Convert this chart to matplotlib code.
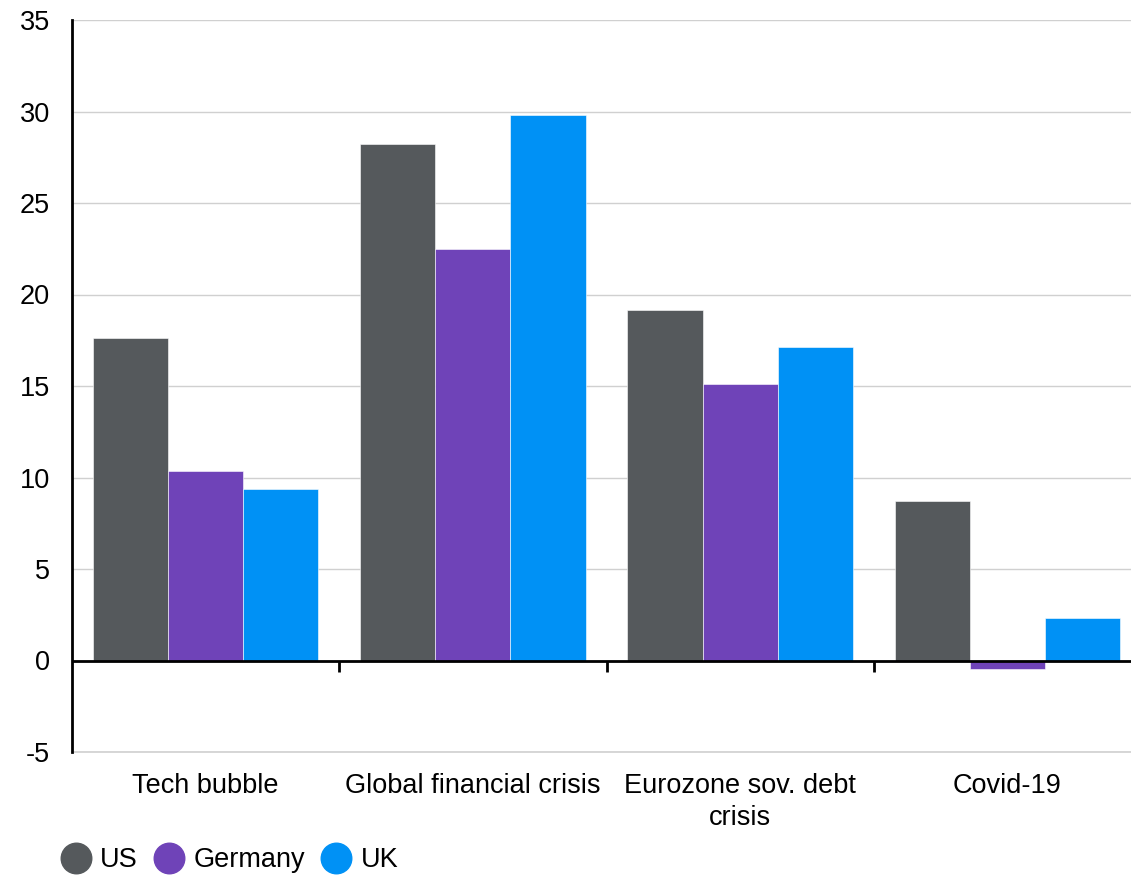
import numpy as np
import matplotlib.pyplot as plt
from matplotlib.lines import Line2D

plt.rcParams["font.family"] = ["Liberation Sans", "DejaVu Sans"]
plt.rcParams["axes.unicode_minus"] = False

categories = ["Tech bubble", "Global financial crisis", "Eurozone sov. debt\ncrisis", "Covid-19"]
series = ["US", "Germany", "UK"]
us = [17.6, 28.2, 19.15, 8.7]
germany = [10.35, 22.5, 15.1, -0.45]
uk = [9.35, 29.8, 17.15, 2.3]
colors = ["#55595c", "#6f43b8", "#0091f5"]

fig = plt.figure(figsize=(11.31, 8.77), dpi=100)
ax = fig.add_axes([72 / 1131, 125 / 877, 1 - 72 / 1131, 732 / 877])

x = np.arange(len(categories))
w = 0.281
for i, (vals, c) in enumerate(zip([us, germany, uk], colors)):
    ax.bar(x + (i - 1) * w, vals, w, color=c, edgecolor="white", linewidth=0.4, zorder=3)

ax.set_ylim(-5, 35)
ax.set_xlim(-0.5, 3.5 - 10 / 267)
ax.set_yticks(np.arange(-5, 36, 5))
ax.yaxis.grid(True, color="#d0d0d0", linewidth=1, zorder=0)
ax.set_axisbelow(True)
ax.tick_params(axis="y", length=0, pad=16, labelsize=19.5)
ax.set_xticks(x)
ax.set_xticklabels(categories, fontsize=19.5, linespacing=1.3)
ax.tick_params(axis="x", length=0, pad=15)

for s in ["top", "right", "bottom"]:
    ax.spines[s].set_visible(False)
ax.spines["left"].set_linewidth(2)
ax.spines["left"].set_color("black")
ax.axhline(-5, color="#d0d0d0", linewidth=1.2, zorder=1, clip_on=False)

ax.axhline(0, color="black", linewidth=2, zorder=4)
sec = ax.secondary_xaxis(5 / 40)
sec.set_xticks([0.5, 1.5, 2.5])
sec.set_xticklabels([])
sec.spines["bottom"].set_visible(False)
sec.tick_params(axis="x", length=8, width=2, color="black", direction="out")

handles = [Line2D([], [], marker="o", linestyle="", markersize=22, color=c) for c in colors]
fig.legend(handles, series, loc="center left", bbox_to_anchor=(0.031, 0.0194), ncol=3, frameon=False,
           fontsize=19.5, handletextpad=0.3, columnspacing=0.55, handlelength=1.2)

fig.savefig("out.png", dpi=100)
